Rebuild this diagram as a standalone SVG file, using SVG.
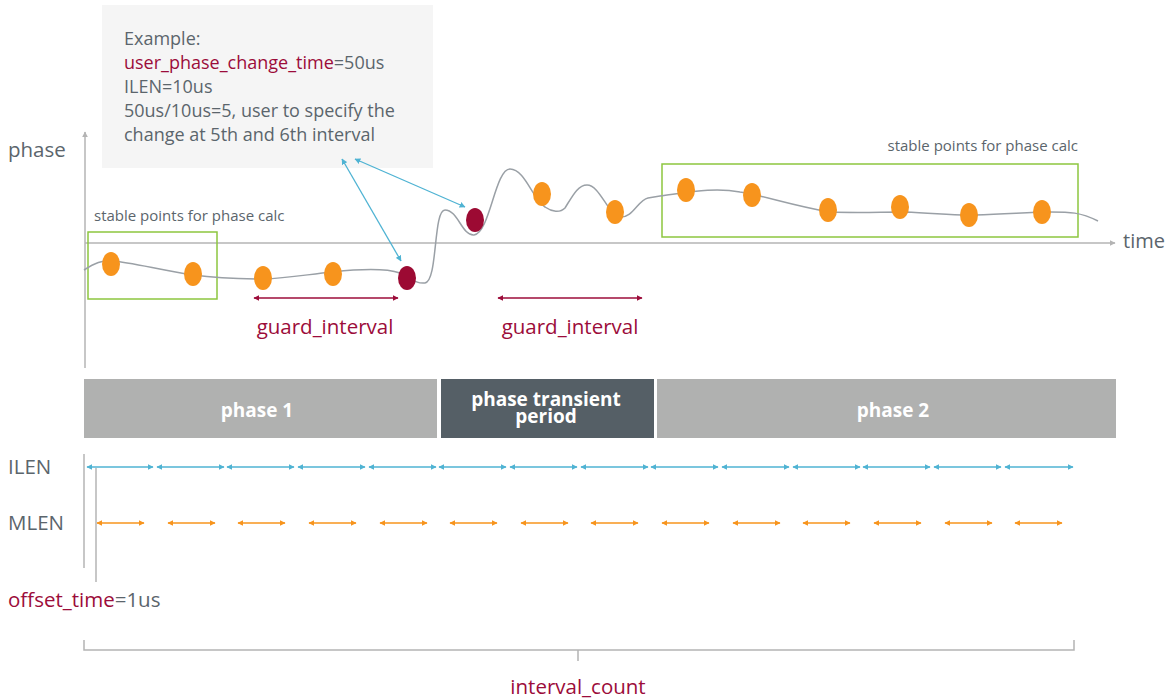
<svg xmlns="http://www.w3.org/2000/svg" width="1172" height="700" viewBox="0 0 1172 700">
<style>
.t{font-family:"Open Sans","Noto Sans",sans-serif;fill:#5b656c}
.r{fill:#9c0c3a}
.s{font-family:"Open Sans","Noto Sans",sans-serif;font-size:15px;fill:#5b656c}
.axis{stroke:#b4b4b4;stroke-width:1.5;fill:none}
.grn{fill:none;stroke:#8dc63f;stroke-width:1.5}
.dot{fill:#f7941d}
.red{fill:#9c0a33}
.bar{fill:#b0b1b0}
.bt{font-family:"Open Sans","Noto Sans",sans-serif;font-weight:bold;fill:#fff;font-size:19px;text-anchor:middle}
.il{stroke:#4fb3d3;stroke-width:1.5;marker-start:url(#mb);marker-end:url(#mb)}
.ml{stroke:#f7941d;stroke-width:1.5;marker-start:url(#mo);marker-end:url(#mo)}
.gi{stroke:#9c0c3a;stroke-width:1.5;marker-start:url(#mr);marker-end:url(#mr)}
.cy{stroke:#4fb3d3;stroke-width:1.3;marker-start:url(#mb);marker-end:url(#mb)}
</style>
<defs>
<marker id="mb" viewBox="0 0 10 10" refX="9" refY="5" markerWidth="6" markerHeight="6" orient="auto-start-reverse" markerUnits="userSpaceOnUse"><path d="M0,0 L10,5 L0,10 z" fill="#4fb3d3"/></marker>
<marker id="mo" viewBox="0 0 10 10" refX="9" refY="5" markerWidth="6" markerHeight="6" orient="auto-start-reverse" markerUnits="userSpaceOnUse"><path d="M0,0 L10,5 L0,10 z" fill="#f7941d"/></marker>
<marker id="mr" viewBox="0 0 10 10" refX="9" refY="5" markerWidth="6" markerHeight="6" orient="auto-start-reverse" markerUnits="userSpaceOnUse"><path d="M0,0 L10,5 L0,10 z" fill="#9c0c3a"/></marker>
<marker id="mg" viewBox="0 0 10 10" refX="9" refY="5" markerWidth="6" markerHeight="6" orient="auto" markerUnits="userSpaceOnUse"><path d="M0,0 L10,5 L0,10 z" fill="#b4b4b4"/></marker>
</defs>
<rect width="1172" height="700" fill="#fff"/>

<g id="example">
<rect x="102" y="5" width="331" height="163" fill="#f5f5f5"/>
<text class="t" font-size="18"><tspan x="124" y="45">Example:</tspan><tspan x="124" y="69" class="r">user_phase_change_time</tspan><tspan>=50us</tspan><tspan x="124" y="93">ILEN=10us</tspan><tspan x="124" y="117">50us/10us=5, user to specify the</tspan><tspan x="124" y="141">change at 5th and 6th interval</tspan></text>
</g>

<g id="axes">
<line class="axis" x1="85" y1="368" x2="85" y2="132" marker-end="url(#mg)"/>
<line class="axis" x1="85" y1="243" x2="1115" y2="243" marker-end="url(#mg)"/>
<text class="t" x="8" y="157" font-size="20.5">phase</text>
<text class="t" x="1123" y="248" font-size="20">time</text>
</g>

<g id="stable1">
<rect class="grn" x="88" y="232" width="129" height="67"/>
<text class="s" x="94" y="221">stable points for phase calc</text>
</g>
<g id="stable2">
<rect class="grn" x="662" y="164" width="416" height="73"/>
<text class="s" x="1078" y="151" text-anchor="end">stable points for phase calc</text>
</g>

<g id="curve">
<path d="M84,270 C95,263 102,260 112,261 C130,262 160,270 193,275 C215,278 240,279 263,279 C290,278 310,274 333,272 C360,269 385,268 400,273 C410,277 415,284 425,283 C438,281 433,210 445,210 C458,210 462,236 474,235 C490,233 495,169 510,169 C525,169 533,200 545,207 C552,212 560,213 565,208 C573,195 578,185 587,185 C600,185 608,215 620,217 C633,218 638,200 648,198 L660,196 C690,192 715,187 740,192 C765,196 790,205 829,212 C860,213 880,212 905,212 C935,213 955,216 975,215 C1010,214 1030,212 1050,212 C1070,212 1080,212 1098,221" fill="none" stroke="#9aa0a6" stroke-width="1.5"/>
</g>

<g id="points">
<ellipse class="dot" cx="111" cy="264" rx="9" ry="12"/>
<ellipse class="dot" cx="193" cy="274" rx="9" ry="12"/>
<ellipse class="dot" cx="263" cy="278" rx="9" ry="12"/>
<ellipse class="dot" cx="333" cy="274" rx="9" ry="12"/>
<ellipse class="red" cx="407" cy="278" rx="9" ry="12"/>
<ellipse class="red" cx="475" cy="220" rx="9" ry="12"/>
<ellipse class="dot" cx="542" cy="194" rx="9" ry="12"/>
<ellipse class="dot" cx="615" cy="212" rx="9" ry="12"/>
<ellipse class="dot" cx="686" cy="190" rx="9" ry="12"/>
<ellipse class="dot" cx="752" cy="195" rx="9" ry="12"/>
<ellipse class="dot" cx="828" cy="210" rx="9" ry="12"/>
<ellipse class="dot" cx="900" cy="207" rx="9" ry="12"/>
<ellipse class="dot" cx="969" cy="215" rx="9" ry="12"/>
<ellipse class="dot" cx="1042" cy="212" rx="9" ry="12"/>
</g>

<g id="connectors">
<line class="cy" x1="342" y1="159" x2="401" y2="261"/>
<line class="cy" x1="355" y1="159" x2="465" y2="207"/>
<line class="gi" x1="254" y1="298" x2="398" y2="298"/>
<line class="gi" x1="498" y1="298" x2="642" y2="298"/>
</g>

<g id="guard-labels">
<text class="t r" x="325" y="334" font-size="20.5" text-anchor="middle">guard_interval</text>
<text class="t r" x="570" y="334" font-size="20.5" text-anchor="middle">guard_interval</text>
</g>

<g id="phase1"><rect class="bar" x="84" y="379" width="353" height="59"/><text class="bt" x="257" y="417">phase 1</text></g>
<g id="transient"><rect x="441" y="379" width="213" height="59" fill="#555f66"/><text class="bt" x="546" y="406">phase transient</text><text class="bt" x="546" y="423">period</text></g>
<g id="phase2"><rect class="bar" x="657" y="379" width="459" height="59"/><text class="bt" x="893" y="417">phase 2</text></g>

<g id="ilen">
<text class="t" x="8" y="474" font-size="20.5">ILEN</text>
<line class="il" x1="87" y1="467" x2="153" y2="467"/>
<line class="il" x1="157" y1="467" x2="224" y2="467"/>
<line class="il" x1="227" y1="467" x2="294" y2="467"/>
<line class="il" x1="298" y1="467" x2="365" y2="467"/>
<line class="il" x1="369" y1="467" x2="436" y2="467"/>
<line class="il" x1="439" y1="467" x2="506" y2="467"/>
<line class="il" x1="510" y1="467" x2="577" y2="467"/>
<line class="il" x1="581" y1="467" x2="648" y2="467"/>
<line class="il" x1="651" y1="467" x2="718" y2="467"/>
<line class="il" x1="722" y1="467" x2="789" y2="467"/>
<line class="il" x1="793" y1="467" x2="860" y2="467"/>
<line class="il" x1="863" y1="467" x2="930" y2="467"/>
<line class="il" x1="934" y1="467" x2="1001" y2="467"/>
<line class="il" x1="1005" y1="467" x2="1073" y2="467"/>
</g>

<g id="mlen">
<text class="t" x="8" y="530" font-size="20.5">MLEN</text>
<line class="ml" x1="97" y1="523" x2="144" y2="523"/>
<line class="ml" x1="168" y1="523" x2="215" y2="523"/>
<line class="ml" x1="238" y1="523" x2="285" y2="523"/>
<line class="ml" x1="309" y1="523" x2="356" y2="523"/>
<line class="ml" x1="380" y1="523" x2="427" y2="523"/>
<line class="ml" x1="450" y1="523" x2="497" y2="523"/>
<line class="ml" x1="521" y1="523" x2="568" y2="523"/>
<line class="ml" x1="591" y1="523" x2="638" y2="523"/>
<line class="ml" x1="662" y1="523" x2="709" y2="523"/>
<line class="ml" x1="733" y1="523" x2="780" y2="523"/>
<line class="ml" x1="803" y1="523" x2="850" y2="523"/>
<line class="ml" x1="874" y1="523" x2="921" y2="523"/>
<line class="ml" x1="945" y1="523" x2="992" y2="523"/>
<line class="ml" x1="1015" y1="523" x2="1062" y2="523"/>
</g>

<g id="offset">
<line class="axis" x1="84" y1="454" x2="84" y2="568"/>
<line class="axis" x1="96" y1="468" x2="96" y2="582"/>
<text class="t" x="8" y="607" font-size="20.5"><tspan class="r">offset_time</tspan>=1us</text>
</g>

<g id="interval-count">
<path class="axis" d="M84,640 V650 H1074 V640 M578,650 V661"/>
<text class="t r" x="578" y="694" font-size="20.5" text-anchor="middle">interval_count</text>
</g>
</svg>
